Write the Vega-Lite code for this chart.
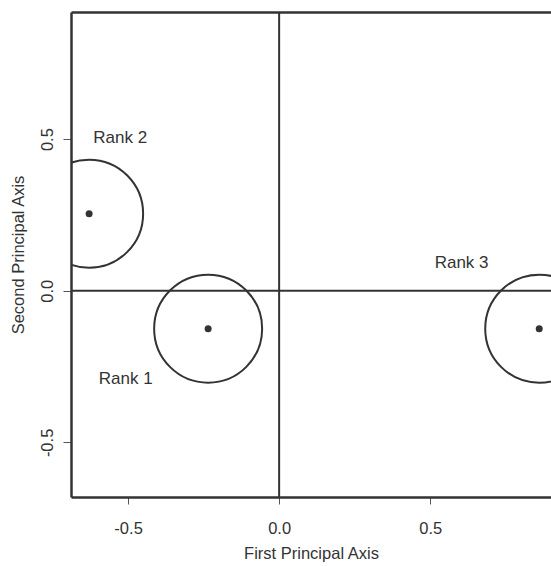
{
  "$schema": "https://vega.github.io/schema/vega-lite/v6.json",
  "autosize": {"type": "none"},
  "padding": {"left": 71, "top": 12, "right": 0, "bottom": 69},
  "width": 480,
  "height": 485,
  "background": "white",
  "config": {
    "view": {"stroke": null},
    "font": "Liberation Sans",
    "axis": {
      "grid": false,
      "domainColor": "#333",
      "domainWidth": 2.5,
      "tickColor": "#555",
      "tickWidth": 1,
      "labelColor": "#333",
      "titleColor": "#333",
      "labelFont": "Liberation Sans",
      "titleFont": "Liberation Sans",
      "labelFontSize": 16.5,
      "titleFontSize": 16.5,
      "titleFontWeight": "normal"
    }
  },
  "datasets": {
    "zero": [{"v": 0}],
    "centers": [
      {"rank": "Rank 1", "x": -0.235, "y": -0.125},
      {"rank": "Rank 2", "x": -0.629, "y": 0.254},
      {"rank": "Rank 3", "x": 0.861, "y": -0.125}
    ],
    "labels": [
      {"label": "Rank 1", "x": -0.508, "y": -0.29},
      {"label": "Rank 2", "x": -0.526, "y": 0.505},
      {"label": "Rank 3", "x": 0.604, "y": 0.092}
    ]
  },
  "layer": [
    {
      "data": {"name": "zero"},
      "mark": {"type": "rule", "color": "#333", "strokeWidth": 2},
      "encoding": {
        "x": {
          "field": "v", "type": "quantitative",
          "scale": {"domain": [-0.689, 0.9], "nice": false, "zero": false},
          "axis": {
            "orient": "bottom",
            "values": [-0.5, 0, 0.5],
            "format": ".1f",
            "labelExpr": "replace(datum.label, '\u2212', '-')",
            "tickSize": 7,
            "labelPadding": 16,
            "title": "First Principal Axis",
            "titlePadding": 9
          }
        }
      }
    },
    {
      "data": {"name": "zero"},
      "mark": {"type": "rule", "color": "#333", "strokeWidth": 2},
      "encoding": {
        "y": {
          "field": "v", "type": "quantitative",
          "scale": {"domain": [-0.68, 0.919], "nice": false, "zero": false},
          "axis": {
            "orient": "left",
            "values": [-0.5, 0, 0.5],
            "format": ".1f",
            "labelExpr": "replace(datum.label, '\u2212', '-')",
            "tickSize": 8,
            "labelAngle": -90,
            "labelAlign": "center",
            "labelBaseline": "bottom",
            "labelPadding": 8,
            "title": "Second Principal Axis",
            "titlePadding": 13
          }
        }
      }
    },
    {
      "data": {"name": "centers"},
      "mark": {"type": "point", "shape": "circle", "filled": false, "size": 11664, "stroke": "#333", "strokeWidth": 2, "opacity": 1, "clip": true},
      "encoding": {
        "x": {"field": "x", "type": "quantitative", "axis": null},
        "y": {"field": "y", "type": "quantitative"}
      }
    },
    {
      "data": {"name": "centers"},
      "mark": {"type": "point", "shape": "circle", "filled": true, "size": 49, "color": "#333", "opacity": 1},
      "encoding": {
        "x": {"field": "x", "type": "quantitative", "axis": null},
        "y": {"field": "y", "type": "quantitative"}
      }
    },
    {
      "data": {"name": "labels"},
      "mark": {"type": "text", "font": "Liberation Sans", "fontSize": 17, "color": "#333", "align": "center", "baseline": "middle"},
      "encoding": {
        "x": {"field": "x", "type": "quantitative", "axis": null},
        "y": {"field": "y", "type": "quantitative"},
        "text": {"field": "label"}
      }
    },
    {
      "data": {"name": "zero"},
      "mark": {"type": "rule", "opacity": 0},
      "encoding": {
        "x": {
          "field": "v", "type": "quantitative",
          "axis": {"orient": "top", "labels": false, "ticks": false, "title": null, "domain": true}
        }
      }
    }
  ],
  "resolve": {"axis": {"x": "independent"}}
}
